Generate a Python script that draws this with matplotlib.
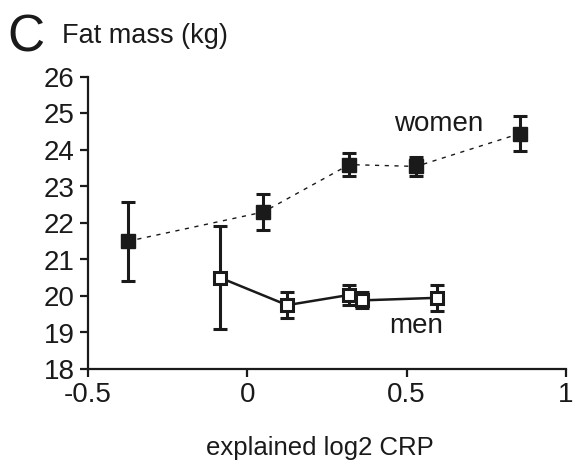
import matplotlib
matplotlib.use("Agg")
import matplotlib.pyplot as plt

plt.rcParams['font.family'] = ['Liberation Sans', 'DejaVu Sans']

women_x = [-0.375, 0.05, 0.32, 0.53, 0.855]
women_y = [21.5, 22.3, 23.6, 23.55, 24.45]
women_err = [1.08, 0.5, 0.32, 0.25, 0.47]

men_x = [-0.085, 0.125, 0.32, 0.36, 0.595]
men_y = [20.5, 19.75, 20.03, 19.88, 19.95]
men_err = [1.41, 0.36, 0.28, 0.22, 0.35]

xticks = [-0.5, 0, 0.5, 1]
xticklabels = ['-0.5', '0', '0.5', '1']
yticks = [18, 19, 20, 21, 22, 23, 24, 25, 26]

W, H = 575, 461
fig = plt.figure(figsize=(W / 100, H / 100), dpi=100)
ax = fig.add_axes([88 / W, 1 - 369 / H, (566 - 88) / W, (369 - 77) / H])

ink = '#1a1a1a'
ax.errorbar(women_x, women_y, yerr=women_err, fmt='none', ecolor=ink,
            elinewidth=2.2, capsize=5, capthick=2.2, zorder=2)
ax.plot(women_x, women_y, linestyle=(0, (3, 4)), color=ink, linewidth=1.0, zorder=1)
ax.plot(women_x, women_y, linestyle='none', marker='s', markersize=9.5,
        markerfacecolor=ink, markeredgecolor=ink, zorder=3)

ax.errorbar(men_x, men_y, yerr=men_err, fmt='none', ecolor=ink,
            elinewidth=2.2, capsize=5, capthick=2.2, zorder=2)
ax.plot(men_x, men_y, linestyle='-', color=ink, linewidth=1.8, zorder=1)
ax.plot(men_x, men_y, linestyle='none', marker='s', markersize=8.5,
        markerfacecolor='white', markeredgecolor=ink, markeredgewidth=2.2, zorder=3)

ax.set_xlim(-0.5, 1)
ax.set_ylim(18, 26)
ax.set_xticks(xticks)
ax.set_xticklabels(xticklabels)
ax.set_yticks(yticks)
ax.tick_params(labelsize=20, width=1.6, length=5.5, color=ink, labelcolor=ink,
               direction='out', pad=4)
for s in ['top', 'right']:
    ax.spines[s].set_visible(False)
for s in ['left', 'bottom']:
    ax.spines[s].set_linewidth(1.6)
    ax.spines[s].set_color(ink)

ax.text(0.6, 24.52, 'women', fontsize=20, ha='center', va='baseline', color=ink)
ax.text(0.53, 18.99, 'men', fontsize=20, ha='center', va='baseline', color=ink)

fig.text(7 / W, 1 - 52 / H, 'C', fontsize=37, ha='left', va='baseline', color=ink)
fig.text(62 / W, 1 - 43 / H, 'Fat mass (kg)', fontsize=19.5, ha='left', va='baseline', color=ink)
fig.text(206 / W, 1 - 455 / H, 'explained log2 CRP', fontsize=18.5, ha='left', va='baseline', color=ink)

fig.savefig('out.png', dpi=100)
